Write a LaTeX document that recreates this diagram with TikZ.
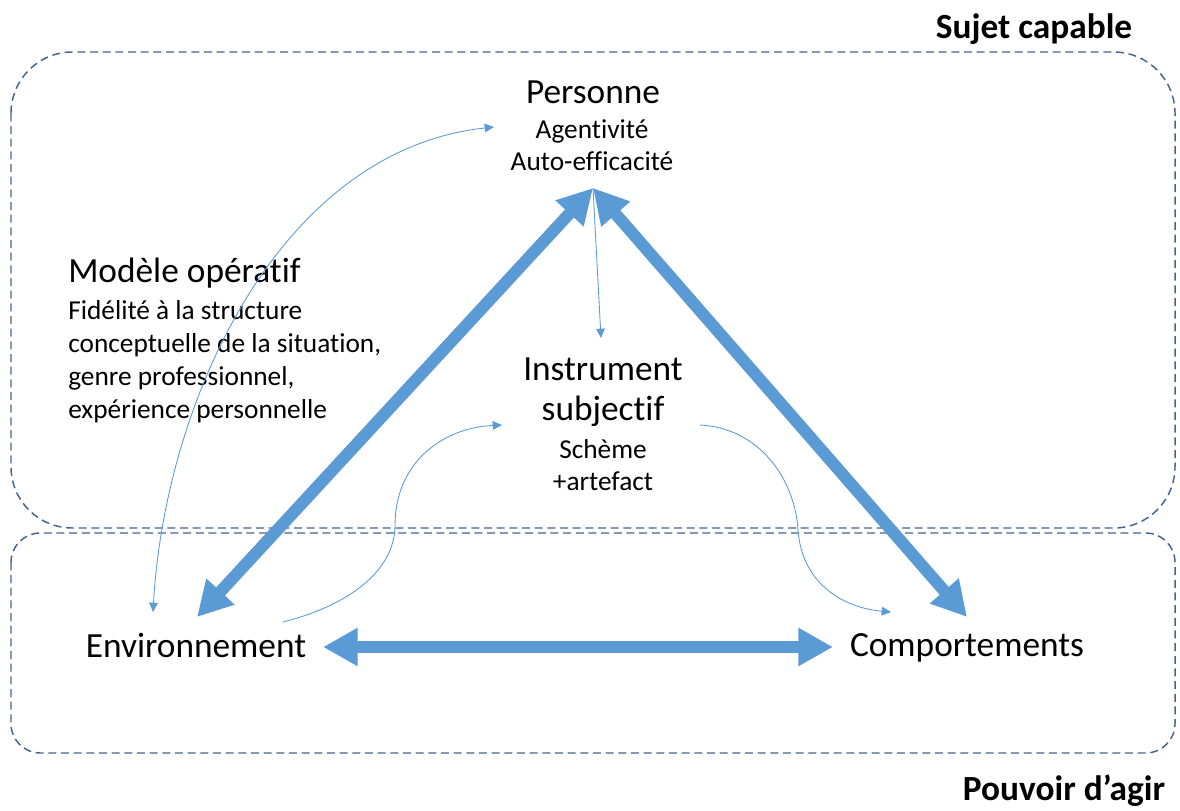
\documentclass[tikz,border=0pt]{standalone}
\usepackage{fontspec}
\setmainfont{Carlito}[Ligatures=NoCommon]
\usetikzlibrary{arrows.meta}
\definecolor{arrblue}{RGB}{91,155,213}
\definecolor{zoneblue}{RGB}{68,102,142}

\begin{document}
\begin{tikzpicture}[x=0.75pt,y=0.75pt,yscale=-1,xscale=1,
  lbl/.style={font=\fontsize{26.5}{30}\selectfont, inner sep=0pt, anchor=base},
  sublbl/.style={font=\fontsize{20.5}{24.75}\selectfont, inner sep=0pt, anchor=base},
  title/.style={font=\fontsize{26.5}{30}\selectfont\bfseries, inner sep=0pt, anchor=base},
  zone/.style={draw=zoneblue, line width=1.1pt, dash pattern=on 6pt off 3.5pt},
  bigarrow/.style={draw=arrblue, line width=9pt, {Triangle[length=26pt,width=27pt]}-{Triangle[length=26pt,width=27pt]}},
  thinarrow/.style={draw=arrblue, line width=0.65pt, -{Triangle[length=7pt,width=6.5pt]}}
]
\useasboundingbox (0,0) rectangle (1180,810);

%Zones
\draw [zone, rounded corners=46pt] (11,52) rectangle (1175,528);
\draw [zone, rounded corners=22pt] (11,533) rectangle (1175,753);

%Texts
\node [title] (sujet) at (1034,38) {Sujet capable};
\node [title] (pouvoir) at (1064,800) {Pouvoir d’agir};

\node [lbl] (pers) at (593,103) {Personne};
\node [sublbl] (agent) at (592,138) {Agentivité};
\node [sublbl] (autoeff) at (592,170) {Auto-efficacité};

\node [lbl] (instr) at (603,380) {Instrument};
\node [lbl] (subj) at (603,420) {subjectif};
\node [sublbl] (scheme) at (603,458) {Schème};
\node [sublbl] (artef) at (603,490) {+artefact};

\node [lbl, anchor=base west] (modele) at (68,282) {Modèle opératif};
%last line gives the base
\node [sublbl, anchor=base west, align=left] (modsub) at (68,418) {Fidélité à la structure\\conceptuelle de la situation,\\genre professionnel,\\expérience personnelle};

\node [lbl] (env) at (196,657) {Environnement};
\node [lbl] (comp) at (967,656) {Comportements};

%Arrow ends
\coordinate (apex) at (593,188);
\coordinate (envtip) at (197,617);
\coordinate (comptip) at (967,617);
\coordinate (envright) at (323,647);
\coordinate (compleft) at (833,647);

%Big arrows
\draw [bigarrow] (envtip) -- (apex);
\draw [bigarrow] (apex) -- (comptip);
\draw [bigarrow] (envright) -- (compleft);

%Thin arrows
\coordinate (envtop) at (153,612);
\coordinate (persleft) at (494,127);
\coordinate (instrtop) at (601,338);
\coordinate (envfoot) at (283,622);
\coordinate (instrleft) at (502,425);
\coordinate (instrright) at (700,425);
\coordinate (comptop) at (891,612);

\draw [thinarrow, {Triangle[length=7pt,width=6.5pt]}-{Triangle[length=7pt,width=6.5pt]}] (envtop) .. controls (165,400) and (280,150) .. (persleft);
\draw [thinarrow] (apex) -- (instrtop);
\draw [thinarrow] (envfoot) .. controls (350,605) and (395,570) .. (395,525) .. controls (395,465) and (440,428) .. (instrleft);
\draw [thinarrow] (instrright) .. controls (760,428) and (795,480) .. (798,530) .. controls (802,585) and (845,608) .. (comptop);

\end{tikzpicture}
\end{document}
